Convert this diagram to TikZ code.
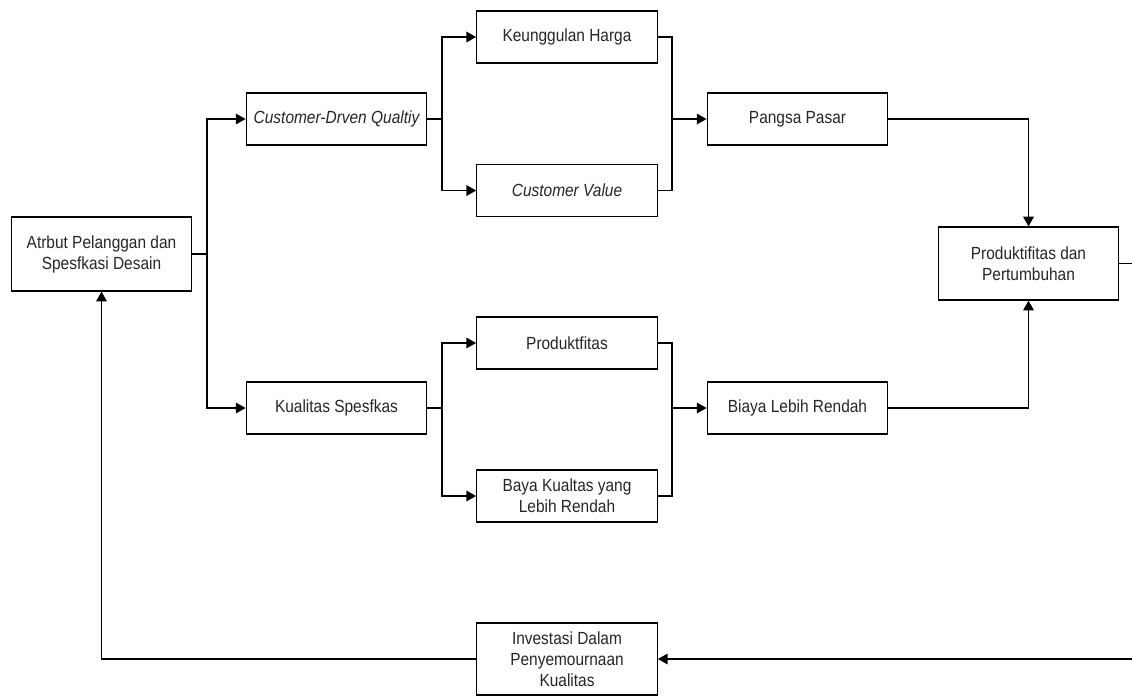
\documentclass[tikz,border=0pt]{standalone}
\usepackage{fontspec}
\setmainfont{Liberation Sans}[FakeStretch=0.88]
\usetikzlibrary{arrows.meta}
\begin{document}
\begin{tikzpicture}[x=0.02cm,y=-0.02cm,
  box/.style={draw, line width=0.75pt, minimum width=3.61cm, minimum height=1.04cm,
    inner sep=0pt, align=center, font=\fontsize{10}{12}\selectfont, text=black!85},
  conn/.style={line width=0.75pt},
  arr/.style={conn, -{Triangle[length=5.5pt,width=6pt]}}]
\clip (0,0) rectangle (1132,697);
\useasboundingbox (0,0) rectangle (1132,697);
% nodes
\node[box, minimum height=1.48cm] (atr) at (101.5,254) {Atrbut Pelanggan dan\\Spesfkasi Desain};
\node[box] (cdq) at (336.5,119) {\itshape Customer-Drven Qualtiy};
\node[box] (ks) at (336.5,408) {Kualitas Spesfkas};
\node[box] (kh) at (567,37) {Keunggulan Harga};
\node[box] (cv) at (567,190.5) {\itshape Customer Value};
\node[box] (pr) at (567,343) {Produktfitas};
\node[box] (bk) at (567,496) {Baya Kualtas yang\\Lebih Rendah};
\node[box] (ps) at (797.5,119) {Pangsa Pasar};
\node[box] (bl) at (797.5,408) {Biaya Lebih Rendah};
\node[box, minimum height=1.46cm] (pp) at (1028.5,263.5) {Produktifitas dan\\Pertumbuhan};
\node[box, minimum height=1.44cm] (inv) at (567,659) {Investasi Dalam\\Penyemournaan\\Kualitas};
% junctions
\coordinate (j1) at (207,254);
\coordinate (j2) at (442,119);
\coordinate (j3) at (672,119);
\coordinate (j4) at (442,408);
\coordinate (j5) at (672,408);
\coordinate (e1) at (1160,263.5);
\coordinate (e2) at (1160,659);
% connectors
\draw[conn] (atr) -- (j1);
\draw[arr] (j1) |- (cdq);
\draw[arr] (j1) |- (ks);
\draw[conn] (cdq) -- (j2);
\draw[arr] (j2) |- (kh);
\draw[arr] (j2) |- (cv);
\draw[conn] (kh) -| (j3);
\draw[conn] (cv) -| (j3);
\draw[arr] (j3) -- (ps);
\draw[conn] (ks) -- (j4);
\draw[arr] (j4) |- (pr);
\draw[arr] (j4) |- (bk);
\draw[conn] (pr) -| (j5);
\draw[conn] (bk) -| (j5);
\draw[arr] (j5) -- (bl);
\draw[arr] (ps) -| (pp);
\draw[arr] (bl) -| (pp);
\draw[arr] (pp) -- (e1) -- (e2) -- (inv);
\draw[arr] (inv) -| (atr);
\end{tikzpicture}
\end{document}
